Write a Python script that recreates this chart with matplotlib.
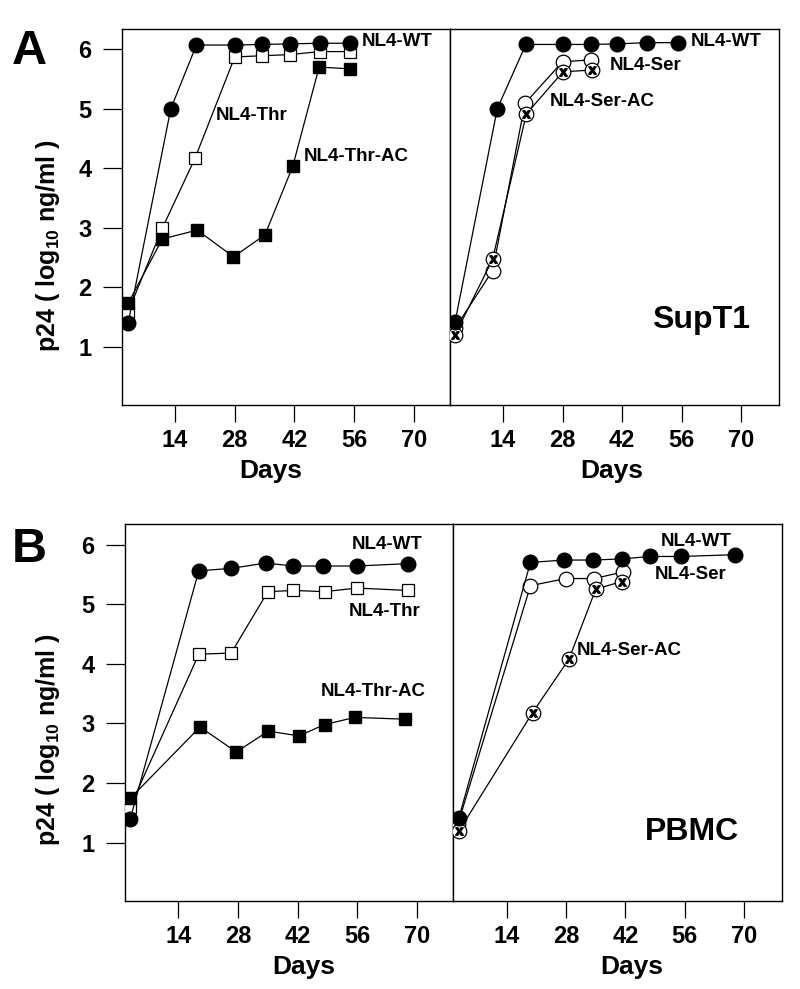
import matplotlib
matplotlib.use('Agg')
import matplotlib.pyplot as plt

plt.rcParams['font.family'] = ['Liberation Sans', 'DejaVu Sans']
plt.rcParams['font.weight'] = 'bold'
plt.rcParams['mathtext.fontset'] = 'custom'
plt.rcParams['mathtext.rm'] = 'Liberation Sans:bold'
plt.rcParams['mathtext.bf'] = 'Liberation Sans:bold'
plt.rcParams['mathtext.default'] = 'bf'

# ---- panel A, SupT1 ----
a_wt_days = [3, 13, 19, 28, 34.5, 41, 48, 55]
a_wt = [1.4, 5.0, 6.07, 6.07, 6.08, 6.09, 6.1, 6.1]
a_thr_days = [3, 11, 18.7, 28, 34.5, 41, 48, 55]
a_thr = [1.59, 2.99, 4.17, 5.87, 5.89, 5.91, 5.96, 5.96]
a_thrac_days = [3, 11, 19.2, 27.7, 35.1, 41.6, 47.8, 55]
a_thrac = [1.73, 2.81, 2.96, 2.51, 2.88, 4.03, 5.70, 5.67]

a_wt2_days = [2.8, 12.7, 19.4, 28, 34.7, 40.9, 47.8, 55.1]
a_wt2 = [1.42, 5.0, 6.08, 6.08, 6.08, 6.09, 6.11, 6.11]
a_ser_days = [2.8, 11.6, 19.2, 28, 34.7]
a_ser = [1.31, 2.28, 5.09, 5.79, 5.82]
a_serac_days = [2.8, 11.6, 19.5, 28.1, 34.9]
a_serac = [1.2, 2.47, 4.91, 5.62, 5.65]

# ---- panel B, PBMC ----
b_wt_days = [2.7, 18.8, 26.4, 34.5, 41, 47.9, 55.9, 67.8]
b_wt = [1.39, 5.56, 5.6, 5.69, 5.64, 5.64, 5.64, 5.68]
b_thr_days = [2.7, 18.8, 26.4, 35, 41, 48.3, 55.9, 67.8]
b_thr = [1.6, 4.16, 4.18, 5.21, 5.23, 5.21, 5.27, 5.23]
b_thrac_days = [2.7, 19.1, 27.6, 35.1, 42.3, 48.3, 55.4, 67.2]
b_thrac = [1.74, 2.94, 2.52, 2.87, 2.79, 2.98, 3.1, 3.07]

b_wt2_days = [2.7, 19.6, 27.5, 34.4, 41.3, 47.8, 55.1, 67.8]
b_wt2 = [1.41, 5.7, 5.74, 5.74, 5.76, 5.8, 5.8, 5.83]
b_ser_days = [2.5, 19.6, 27.9, 34.6, 41.5]
b_ser = [1.31, 5.31, 5.43, 5.43, 5.54]
b_serac_days = [2.7, 20.1, 28.7, 35, 41.1]
b_serac = [1.19, 3.18, 4.08, 5.25, 5.38]

xticks = [14, 28, 42, 56, 70]
yticks = [1, 2, 3, 4, 5, 6]

fig = plt.figure(figsize=(8, 9.89), dpi=100)

axA1 = fig.add_axes([0.1525, 0.5905, 0.41, 0.3802])
axA2 = fig.add_axes([0.5625, 0.5905, 0.41125, 0.3802])
axB1 = fig.add_axes([0.15625, 0.08898, 0.4104, 0.3809])
axB2 = fig.add_axes([0.5666, 0.08898, 0.41125, 0.3809])

lw = 0.9


def filled_circle(ax, x, y):
    ax.plot(x, y, '-', color='k', lw=lw, marker='o', ms=10.5,
            mfc='k', mec='k', zorder=4)


def open_square(ax, x, y):
    ax.plot(x, y, '-', color='k', lw=lw, marker='s', ms=9,
            mfc='white', mec='k', mew=0.9, zorder=3)


def filled_square(ax, x, y):
    ax.plot(x, y, '-', color='k', lw=lw, marker='s', ms=9,
            mfc='k', mec='k', zorder=3)


def open_circle(ax, x, y):
    ax.plot(x, y, '-', color='k', lw=lw, marker='o', ms=10.5,
            mfc='white', mec='k', mew=0.9, zorder=3)


def x_circle(ax, x, y):
    ax.plot(x, y, '-', color='k', lw=lw, marker='o', ms=10.5,
            mfc='white', mec='k', mew=0.9, zorder=3)
    ax.plot(x, y, ls='none', marker='$x$', ms=5.5, color='k', zorder=3.5)


for ax in [axA1, axA2, axB1, axB2]:
    ax.set_ylim(0.02, 6.34)
    ax.set_xticks(xticks)
    ax.set_xticklabels([str(t) for t in xticks], fontsize=17, fontweight='bold')
    ax.tick_params(axis='x', length=12, width=0.9, pad=5, direction='out')
    for s in ax.spines.values():
        s.set_linewidth(1.0)
    ax.set_xlabel('Days', fontsize=19, fontweight='bold')

for ax in [axA1, axB1]:
    ax.set_yticks(yticks)
    ax.set_yticklabels([str(t) for t in yticks], fontsize=17, fontweight='bold')
    ax.tick_params(axis='y', length=14, width=0.9, pad=8, direction='out')
for ax in [axA2, axB2]:
    ax.set_yticks([])

axA1.set_xlim(1.55, 78.5)
axA2.set_xlim(1.6, 78.8)
axB1.set_xlim(1.5, 78.5)
axB2.set_xlim(1.4, 79)

axA1.xaxis.set_label_coords(0.454, -0.143)
axA2.xaxis.set_label_coords(0.492, -0.143)
axB1.xaxis.set_label_coords(0.543, -0.143)
axB2.xaxis.set_label_coords(0.541, -0.143)

# panel A left
open_square(axA1, a_thr_days, a_thr)
filled_square(axA1, a_thrac_days, a_thrac)
filled_circle(axA1, a_wt_days, a_wt)
axA1.text(57.8, 6.13, 'NL4-WT', fontsize=13.5, fontweight='bold', va='center')
axA1.text(23.6, 4.88, 'NL4-Thr', fontsize=13.5, fontweight='bold', va='center')
axA1.text(44.3, 4.19, 'NL4-Thr-AC', fontsize=13.5, fontweight='bold', va='center')

# panel A right
open_circle(axA2, a_ser_days, a_ser)
x_circle(axA2, a_serac_days, a_serac)
filled_circle(axA2, a_wt2_days, a_wt2)
axA2.text(58, 6.13, 'NL4-WT', fontsize=13.5, fontweight='bold', va='center')
axA2.text(39.2, 5.72, 'NL4-Ser', fontsize=13.5, fontweight='bold', va='center')
axA2.text(25.1, 5.12, 'NL4-Ser-AC', fontsize=13.5, fontweight='bold', va='center')
axA2.text(60.5, 1.45, 'SupT1', fontsize=23, fontweight='bold', ha='center', va='center')

# panel B left
open_square(axB1, b_thr_days, b_thr)
filled_square(axB1, b_thrac_days, b_thrac)
filled_circle(axB1, b_wt_days, b_wt)
axB1.text(54.7, 6.0, 'NL4-WT', fontsize=13.5, fontweight='bold', va='center')
axB1.text(53.9, 4.88, 'NL4-Thr', fontsize=13.5, fontweight='bold', va='center')
axB1.text(47.5, 3.53, 'NL4-Thr-AC', fontsize=13.5, fontweight='bold', va='center')

# panel B right
open_circle(axB2, b_ser_days, b_ser)
x_circle(axB2, b_serac_days, b_serac)
filled_circle(axB2, b_wt2_days, b_wt2)
axB2.text(50.4, 6.05, 'NL4-WT', fontsize=13.5, fontweight='bold', va='center')
axB2.text(48.9, 5.49, 'NL4-Ser', fontsize=13.5, fontweight='bold', va='center')
axB2.text(30.6, 4.22, 'NL4-Ser-AC', fontsize=13.5, fontweight='bold', va='center')
axB2.text(57.7, 1.18, 'PBMC', fontsize=23, fontweight='bold', ha='center', va='center')

ylab = r'p24 ( log$_{10}$ ng/ml )'
fig.text(0.06, 0.7513, ylab, rotation=90, fontsize=18, fontweight='bold',
         ha='center', va='center')
fig.text(0.06, 0.2518, ylab, rotation=90, fontsize=18, fontweight='bold',
         ha='center', va='center')

fig.text(29 / 800, 1 - 51 / 989, 'A', fontsize=35, fontweight='bold', ha='center', va='center')
fig.text(29 / 800, 1 - 549 / 989, 'B', fontsize=35, fontweight='bold', ha='center', va='center')

plt.savefig('out.png', dpi=100)
